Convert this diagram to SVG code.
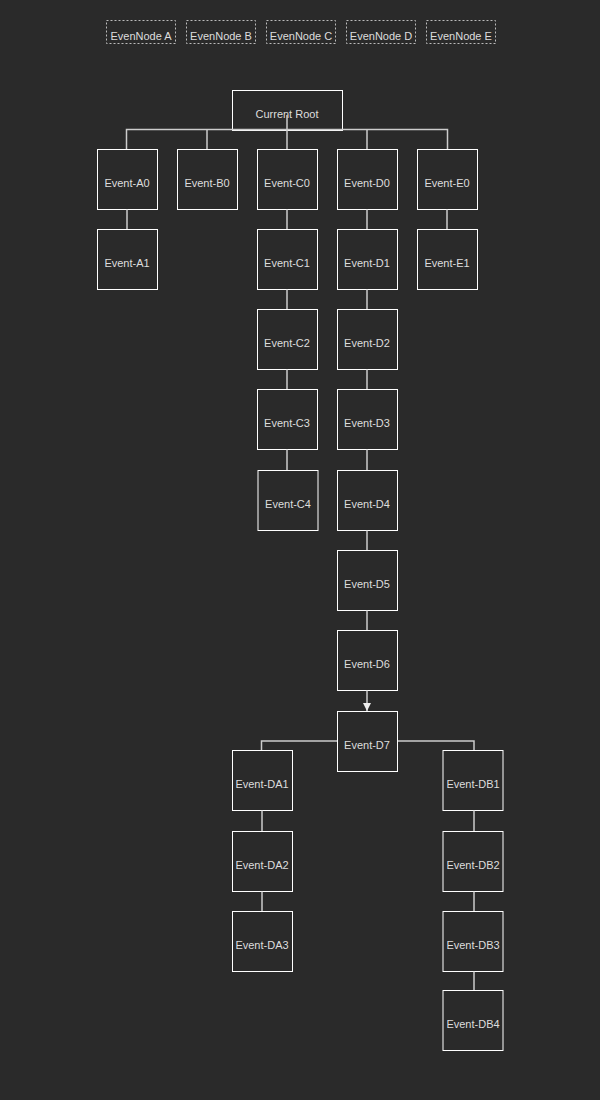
<svg xmlns="http://www.w3.org/2000/svg" width="600" height="1100" viewBox="0 0 600 1100">
<defs>
<style>
.bg{fill:#2a2a2a}
.leg rect{fill:none;stroke:#bbb;stroke-width:1;stroke-dasharray:2,2}
.node rect{fill:#2a2a2a;stroke:#fff;stroke-width:1}
text{font-family:"Liberation Sans",Arial,sans-serif;font-size:11px;fill:#ddd;text-anchor:middle}
.conn path{fill:none;stroke:#ccc;stroke-width:1.5}
</style>
<marker id="arr" markerWidth="8" markerHeight="8" refX="8" refY="4" orient="auto" markerUnits="userSpaceOnUse" viewBox="0 0 8 8">
<path d="M0,0 L8,4 L0,8 Z" fill="#eee"/>
</marker>
</defs>
<rect class="bg" x="0" y="0" width="600" height="1100"/>
<g id="legend" class="leg">
<rect x="106.5" y="20.5" width="69" height="23"/><text x="141" y="40">EvenNode A</text>
<rect x="186.5" y="20.5" width="69" height="23"/><text x="221" y="40">EvenNode B</text>
<rect x="266.5" y="20.5" width="69" height="23"/><text x="301" y="40">EvenNode C</text>
<rect x="346.5" y="20.5" width="69" height="23"/><text x="381" y="40">EvenNode D</text>
<rect x="426.5" y="20.5" width="69" height="23"/><text x="461" y="40">EvenNode E</text>
</g>
<g id="root" class="node"><rect x="232.5" y="90.5" width="110" height="40"/><text x="287" y="118">Current Root</text></g>
<g id="A0" class="node"><rect x="97.5" y="149.5" width="60" height="60"/><text x="127" y="187">Event-A0</text></g>
<g id="A1" class="node"><rect x="97.5" y="229.5" width="60" height="60"/><text x="127" y="267">Event-A1</text></g>
<g id="B0" class="node"><rect x="177.5" y="149.5" width="60" height="60"/><text x="207" y="187">Event-B0</text></g>
<g id="C0" class="node"><rect x="257.5" y="149.5" width="60" height="60"/><text x="287" y="187">Event-C0</text></g>
<g id="C1" class="node"><rect x="257.5" y="229.5" width="60" height="60"/><text x="287" y="267">Event-C1</text></g>
<g id="C2" class="node"><rect x="257.5" y="309.5" width="60" height="60"/><text x="287" y="347">Event-C2</text></g>
<g id="C3" class="node"><rect x="257.5" y="389.5" width="60" height="60"/><text x="287" y="427">Event-C3</text></g>
<g id="C4" class="node"><rect x="258" y="470.5" width="60" height="60"/><text x="288" y="508">Event-C4</text></g>
<g id="D0" class="node"><rect x="337.5" y="149.5" width="60" height="60"/><text x="367" y="187">Event-D0</text></g>
<g id="D1" class="node"><rect x="337.5" y="229.5" width="60" height="60"/><text x="367" y="267">Event-D1</text></g>
<g id="D2" class="node"><rect x="337.5" y="309.5" width="60" height="60"/><text x="367" y="347">Event-D2</text></g>
<g id="D3" class="node"><rect x="337.5" y="389.5" width="60" height="60"/><text x="367" y="427">Event-D3</text></g>
<g id="D4" class="node"><rect x="337.5" y="470.5" width="60" height="60"/><text x="367" y="508">Event-D4</text></g>
<g id="D5" class="node"><rect x="337.5" y="550.5" width="60" height="60"/><text x="367" y="588">Event-D5</text></g>
<g id="D6" class="node"><rect x="337.5" y="630.5" width="60" height="60"/><text x="367" y="668">Event-D6</text></g>
<g id="D7" class="node"><rect x="337.5" y="711.5" width="60" height="60"/><text x="367" y="749">Event-D7</text></g>
<g id="E0" class="node"><rect x="417.5" y="149.5" width="60" height="60"/><text x="447" y="187">Event-E0</text></g>
<g id="E1" class="node"><rect x="417.5" y="229.5" width="60" height="60"/><text x="447" y="267">Event-E1</text></g>
<g id="DA1" class="node"><rect x="232.5" y="750.5" width="60" height="60"/><text x="262" y="788">Event-DA1</text></g>
<g id="DA2" class="node"><rect x="232.5" y="831.5" width="60" height="60"/><text x="262" y="869">Event-DA2</text></g>
<g id="DA3" class="node"><rect x="232.5" y="911.5" width="60" height="60"/><text x="262" y="949">Event-DA3</text></g>
<g id="DB1" class="node"><rect x="443" y="750.5" width="60" height="60"/><text x="473" y="788">Event-DB1</text></g>
<g id="DB2" class="node"><rect x="443" y="831.5" width="60" height="60"/><text x="473" y="869">Event-DB2</text></g>
<g id="DB3" class="node"><rect x="443" y="911.5" width="60" height="60"/><text x="473" y="949">Event-DB3</text></g>
<g id="DB4" class="node"><rect x="443" y="990.5" width="60" height="60"/><text x="473" y="1028">Event-DB4</text></g>
<g id="connectors" class="conn">
<path d="M126.5,149 V129.5 H447.5 V149 M207,129.5 V149 M287,115 V149 M367,129.5 V149"/>
<path d="M127,209.5 V229"/>
<path d="M287,209.5 V229 M287,289.5 V309 M287,369.5 V389 M287,449.5 V470"/>
<path d="M367,209.5 V229 M367,289.5 V309 M367,369.5 V389 M367,449.5 V470 M367,530.5 V550 M367,610.5 V630"/>
<path d="M367,690.5 V711" marker-end="url(#arr)"/>
<path d="M447,209.5 V229"/>
<path d="M337,741 H261.5 V750 M398,741 H474 V750"/>
<path d="M262,810.5 V831 M262,891.5 V911"/>
<path d="M474,810.5 V831 M474,891.5 V911 M474,971.5 V990"/>
</g>
</svg>
